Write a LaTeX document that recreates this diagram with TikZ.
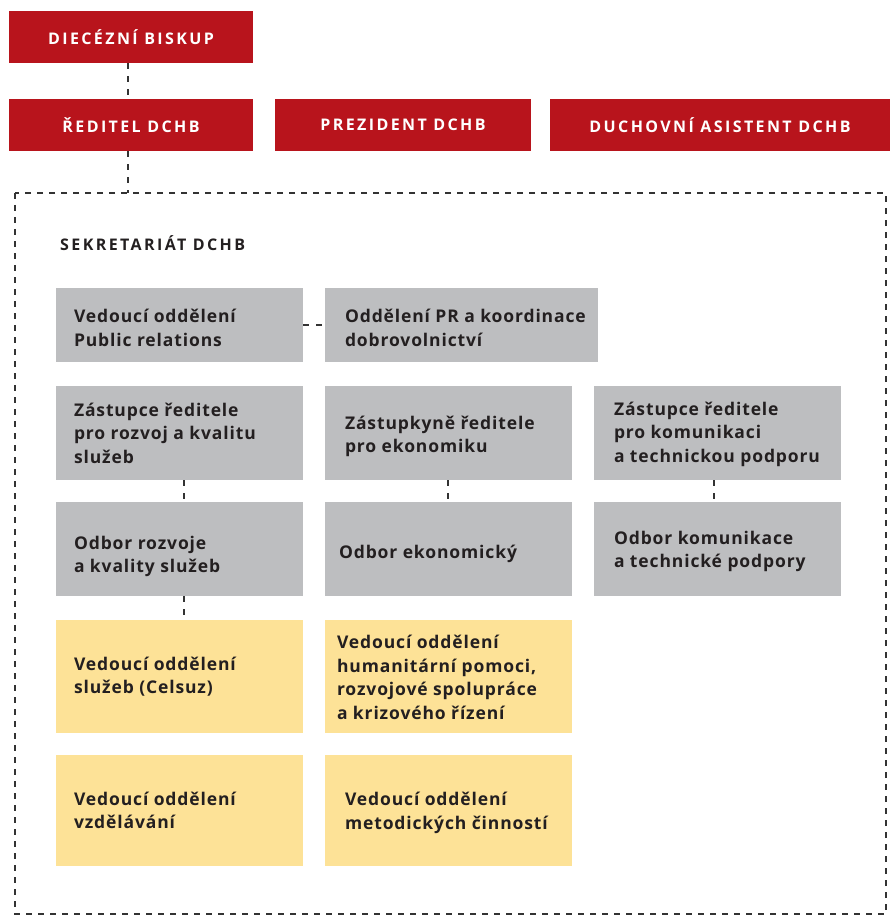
\documentclass[tikz,border=0pt]{standalone}
\usepackage{fontspec}
\setmainfont[LetterSpace=5]{Open Sans}
\newfontfamily\capsfont[LetterSpace=15]{Open Sans}
\definecolor{dred}{HTML}{B8141C}
\definecolor{dgray}{HTML}{BDBEC0}
\definecolor{dyel}{HTML}{FDE297}
\definecolor{dtext}{HTML}{231F20}
\definecolor{dline}{HTML}{333333}
\tikzset{
  redbox/.style={fill=dred, inner sep=0pt, text=white, font=\capsfont\bfseries\fontsize{16}{18}\selectfont},
  graybox/.style={fill=dgray, inner sep=0pt},
  yelbox/.style={fill=dyel, inner sep=0pt},
  txt/.style={anchor=west, inner sep=0pt, align=left, text=dtext, font=\bfseries\fontsize{17.5}{23.5}\selectfont},
  conn/.style={draw=dline, line width=2pt, dash pattern=on 6pt off 7pt},
  frame/.style={draw=dline, line width=2pt, dash pattern=on 6pt off 6pt},
}
\begin{document}
\begin{tikzpicture}[x=1pt,y=-1pt]
\useasboundingbox (0,0) rectangle (890,917);
% red boxes
\node[redbox, minimum width=244pt, minimum height=52pt] (bis) at (131,37) {DIECÉZNÍ BISKUP};
\node[redbox, minimum width=244pt, minimum height=52pt] (red) at (131,125) {ŘEDITEL DCHB};
\node[redbox, minimum width=256pt, minimum height=52pt] (pre) at (403,125) {PREZIDENT DCHB};
\node[redbox, minimum width=340pt, minimum height=52pt] (duc) at (720,125) {DUCHOVNÍ ASISTENT DCHB};
% frame
\draw[frame] (15,193) rectangle (886,914);
\coordinate (ftop) at (128,193);
\node[anchor=west, inner sep=0pt, text=dtext, font=\capsfont\bfseries\fontsize{16}{18}\selectfont] (sek) at (60,243) {SEKRETARIÁT DCHB};
% row 1
\node[graybox, minimum width=247pt, minimum height=74pt] (pr1) at (179.5,325) {};
\node[graybox, minimum width=273pt, minimum height=74pt] (pr2) at (461.5,325) {};
\node[txt] (tpr1) at ([xshift=18pt,yshift=-3pt]pr1.west) {Vedoucí oddělení\\Public relations};
\node[txt] (tpr2) at ([xshift=20pt,yshift=-3pt]pr2.west) {Oddělení PR a koordinace\\dobrovolnictví};
% row 2
\node[graybox, minimum width=247pt, minimum height=94pt] (z1) at (179.5,433) {};
\node[graybox, minimum width=247pt, minimum height=94pt] (z2) at (448.5,433) {};
\node[graybox, minimum width=247pt, minimum height=94pt] (z3) at (717.5,433) {};
\node[txt] (tz1) at ([xshift=18pt]z1.west) {Zástupce ředitele\\pro rozvoj a kvalitu\\služeb};
\node[txt] (tz2) at ([xshift=20pt,yshift=-3.5pt]z2.west) {Zástupkyně ředitele\\pro ekonomiku};
\node[txt] (tz3) at ([xshift=20pt,yshift=-1pt]z3.west) {Zástupce ředitele\\pro komunikaci\\a technickou podporu};
% row 3
\node[graybox, minimum width=247pt, minimum height=94pt] (o1) at (179.5,549) {};
\node[graybox, minimum width=247pt, minimum height=94pt] (o2) at (448.5,549) {};
\node[graybox, minimum width=247pt, minimum height=94pt] (o3) at (717.5,549) {};
\node[txt] (to1) at ([xshift=18pt,yshift=-7.5pt]o1.west) {Odbor rozvoje\\a kvality služeb};
\node[txt] (to2) at ([xshift=14pt,yshift=-5pt]o2.west) {Odbor ekonomický};
\node[txt] (to3) at ([xshift=20pt,yshift=-2.5pt]o3.west) {Odbor komunikace\\a technické podpory};
% row 4
\node[yelbox, minimum width=247pt, minimum height=113pt] (v1) at (179.5,676.5) {};
\node[yelbox, minimum width=247pt, minimum height=113pt] (v2) at (448.5,676.5) {};
\node[txt] (tv1) at ([xshift=18pt]v1.west) {Vedoucí oddělení\\služeb (Celsuz)};
\node[txt] (tv2) at ([xshift=12pt,yshift=-1pt]v2.west) {Vedoucí oddělení\\humanitární pomoci,\\rozvojové spolupráce\\a krizového řízení};
% row 5
\node[yelbox, minimum width=247pt, minimum height=111pt] (v3) at (179.5,810.5) {};
\node[yelbox, minimum width=247pt, minimum height=111pt] (v4) at (448.5,810.5) {};
\node[txt] (tv3) at ([xshift=18pt]v3.west) {Vedoucí oddělení\\vzdělávání};
\node[txt] (tv4) at ([xshift=20pt,yshift=-2.5pt]v4.west) {Vedoucí oddělení\\metodických činností};
% connectors
\draw[conn] (bis.south -| 128,0) -- (red.north -| 128,0);
\draw[conn] (red.south -| 128,0) -- (ftop);
\draw[conn] (pr1.east) -- (pr2.west);
\draw[conn] (z1.south -| 184,0) -- (o1.north -| 184,0);
\draw[conn] (z2.south -| 448,0) -- (o2.north -| 448,0);
\draw[conn] (z3.south -| 714,0) -- (o3.north -| 714,0);
\draw[conn] (o1.south -| 184,0) -- (v1.north -| 184,0);
\end{tikzpicture}
\end{document}
